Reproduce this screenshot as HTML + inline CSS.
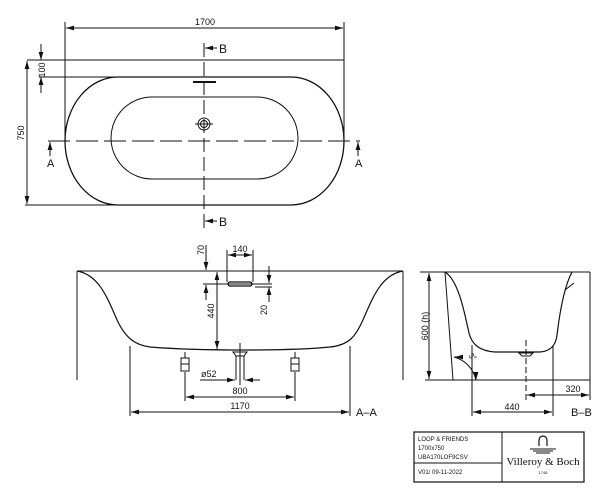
<!DOCTYPE html>
<html><head><meta charset="utf-8"><style>
html,body{margin:0;padding:0;background:#fff;}
svg{display:block;font-family:"Liberation Sans",sans-serif;}
text{fill:#111;}
</style></head><body>
<svg width="613" height="500" viewBox="0 0 613 500" xmlns="http://www.w3.org/2000/svg">
<defs>
<marker id="ar" viewBox="0 0 10 6" refX="10" refY="3" markerWidth="8" markerHeight="5" orient="auto-start-reverse" markerUnits="userSpaceOnUse"><path d="M0,0 L10,3 L0,6z" fill="#111"/></marker>
</defs>
<g stroke="#111" stroke-width="1" fill="none">
<!-- TOP VIEW -->
<line x1="65" y1="22" x2="65" y2="141"/>
<line x1="344" y1="22" x2="344" y2="141"/>
<line x1="66" y1="28" x2="343" y2="28" marker-start="url(#ar)" marker-end="url(#ar)"/>
<line x1="27" y1="60" x2="344" y2="60"/>
<line x1="25" y1="205" x2="120" y2="205"/>
<line x1="27" y1="61" x2="27" y2="204" marker-start="url(#ar)" marker-end="url(#ar)"/>
<line x1="39" y1="77" x2="120" y2="77"/>
<line x1="41" y1="44" x2="41" y2="60" marker-end="url(#ar)"/>
<line x1="41" y1="93" x2="41" y2="77" marker-end="url(#ar)"/>
<path d="M118,77 H291 A53,64 0 0 1 291,205 H118 A53,64 0 0 1 118,77 Z" stroke-width="1.3"/>
<path d="M152,97 H257 A41,41 0 0 1 257,179 H152 A41,41 0 0 1 152,97 Z"/>
<line x1="204" y1="43" x2="204" y2="228" stroke-dasharray="14,5"/>
<line x1="48" y1="141" x2="360" y2="141" stroke-dasharray="22,6"/>
<line x1="193" y1="82" x2="216" y2="82" stroke-width="2"/>
<circle cx="204" cy="124" r="6"/><circle cx="204" cy="124" r="3.5"/>
<line x1="195" y1="124" x2="213" y2="124"/>
<line x1="50" y1="156" x2="50" y2="142" marker-end="url(#ar)"/>
<line x1="358" y1="156" x2="358" y2="142" marker-end="url(#ar)"/>
<line x1="217" y1="48" x2="205" y2="48" marker-end="url(#ar)"/>
<line x1="217" y1="221" x2="205" y2="221" marker-end="url(#ar)"/>

<!-- SECTION A-A -->
<line x1="77" y1="271" x2="403" y2="271"/>
<line x1="77" y1="271" x2="77" y2="380"/>
<line x1="403" y1="271" x2="403" y2="380"/>
<path d="M77,271 C100,275 108,300 118,322 C126,338 135,345 150,347 C200,351 290,351 330,347 C350,345 356,335 362,322 C372,300 380,275 403,271" stroke-width="1.2"/>
<line x1="130" y1="346" x2="130" y2="416"/>
<line x1="350" y1="346" x2="350" y2="416"/>
<line x1="131" y1="412" x2="349" y2="412" marker-start="url(#ar)" marker-end="url(#ar)"/>
<line x1="185" y1="372" x2="185" y2="401"/>
<line x1="295" y1="372" x2="295" y2="401"/>
<line x1="186" y1="397" x2="294" y2="397" marker-start="url(#ar)" marker-end="url(#ar)"/>
<rect x="181" y="358" width="8" height="13"/><line x1="181" y1="364" x2="189" y2="364"/>
<rect x="291" y="358" width="8" height="13"/><line x1="291" y1="364" x2="299" y2="364"/>
<line x1="185" y1="352" x2="185" y2="358"/><line x1="295" y1="352" x2="295" y2="358"/>
<path d="M233,352 H247 L244,356 H236 Z"/>
<line x1="236" y1="356" x2="236" y2="380"/><line x1="244" y1="356" x2="244" y2="380"/>
<line x1="240" y1="343" x2="240" y2="385"/>
<line x1="200" y1="380" x2="235" y2="380" marker-end="url(#ar)"/>
<line x1="260" y1="380" x2="245" y2="380" marker-end="url(#ar)"/>
<line x1="217" y1="272" x2="217" y2="349" marker-start="url(#ar)" marker-end="url(#ar)"/>
<line x1="206" y1="245" x2="206" y2="270" marker-end="url(#ar)"/>
<line x1="206" y1="300" x2="206" y2="285" marker-end="url(#ar)"/>
<line x1="203" y1="284" x2="272" y2="284"/>
<rect x="228" y="282" width="24" height="4" rx="2" stroke-width="1.3"/>
<line x1="227" y1="250" x2="227" y2="282"/><line x1="253" y1="250" x2="253" y2="282"/>
<line x1="228" y1="255" x2="252" y2="255" marker-start="url(#ar)" marker-end="url(#ar)"/>
<line x1="269" y1="266" x2="269" y2="283" marker-end="url(#ar)"/>
<line x1="269" y1="302" x2="269" y2="287" marker-end="url(#ar)"/>
<line x1="255" y1="287" x2="272" y2="287"/>

<!-- SECTION B-B -->
<line x1="445" y1="272" x2="590" y2="272"/>
<line x1="425" y1="380" x2="590" y2="380"/>
<line x1="590" y1="272" x2="590" y2="380"/>
<line x1="445" y1="272" x2="453" y2="380"/>
<path d="M445,272 C458,280 464,310 469,333 C472,345 480,351 495,352 H540 C552,351 556,344 557,335 C560,310 565,285 572,272" stroke-width="1.2"/>
<line x1="565" y1="290" x2="574" y2="283"/>
<line x1="429" y1="273" x2="429" y2="379" marker-start="url(#ar)" marker-end="url(#ar)"/>
<line x1="420" y1="272" x2="445" y2="272"/>
<path d="M454,357 C465,360 473,368 476,380"/>
<line x1="476" y1="377" x2="476" y2="380" marker-end="url(#ar)"/>
<line x1="462" y1="357" x2="455" y2="357" marker-end="url(#ar)"/>
<path d="M519,353 H533 L530,356 H522 Z"/>
<line x1="526" y1="340" x2="526" y2="400" stroke-dasharray="6,3"/>
<line x1="472" y1="345" x2="472" y2="416"/>
<line x1="553" y1="345" x2="553" y2="416"/>
<line x1="473" y1="412" x2="552" y2="412" marker-start="url(#ar)" marker-end="url(#ar)"/>
<line x1="527" y1="395" x2="589" y2="395" marker-start="url(#ar)" marker-end="url(#ar)"/>
<line x1="590" y1="380" x2="590" y2="400"/>

<!-- TITLE BLOCK -->
<rect x="414" y="432" width="170" height="50" stroke-width="1.2"/>
<line x1="502" y1="432" x2="502" y2="482"/>
<line x1="414" y1="463" x2="502" y2="463"/>
<path d="M539,446 V440 A4,4 0 0 1 547,440 V446" stroke-width="1.2"/>
<line x1="530" y1="449" x2="556" y2="449"/>
<line x1="533" y1="451" x2="553" y2="451"/>
<line x1="536" y1="453" x2="550" y2="453"/>
</g>
<g font-size="10">
<text x="205" y="25" text-anchor="middle" font-size="9">1700</text>
<text transform="translate(45,70) rotate(-90)" text-anchor="middle" font-size="9">100</text>
<text transform="translate(24,133) rotate(-90)" text-anchor="middle" font-size="9">750</text>
<text x="219" y="53" font-size="12">B</text>
<text x="219" y="226" font-size="12">B</text>
<text x="47" y="167" font-size="11">A</text>
<text x="355" y="167" font-size="11">A</text>
<text transform="translate(204,250) rotate(-90)" text-anchor="middle" font-size="9">70</text>
<text x="240" y="252" text-anchor="middle" font-size="9">140</text>
<text transform="translate(214,311) rotate(-90)" text-anchor="middle" font-size="9">440</text>
<text transform="translate(267,310) rotate(-90)" text-anchor="middle" font-size="9">20</text>
<text x="201" y="377" font-size="9">ø52</text>
<text x="240" y="394" text-anchor="middle" font-size="9">800</text>
<text x="240" y="409" text-anchor="middle" font-size="9">1170</text>
<text x="356" y="416" font-size="11">A–A</text>
<text transform="translate(428,326) rotate(-90)" text-anchor="middle" font-size="9">600 (h)</text>
<text transform="translate(468,356) rotate(45)" font-size="8">3°</text>
<text x="573" y="392" text-anchor="middle" font-size="9">320</text>
<text x="512" y="410" text-anchor="middle" font-size="9">440</text>
<text x="571" y="416" font-size="11">B–B</text>
<text x="418" y="441" font-size="6">LOOP &amp; FRIENDS</text>
<text x="418" y="450" font-size="6">1700x750</text>
<text x="418" y="459" font-size="6">UBA170LOF9CSV</text>
<text x="418" y="474" font-size="6">V01/ 09-11-2022</text>
<text x="543" y="465" text-anchor="middle" font-size="11" font-family="Liberation Serif,serif">Villeroy &amp; Boch</text>
<text x="543" y="474" text-anchor="middle" font-size="4">1748</text>
</g>
</svg>
</body></html>
